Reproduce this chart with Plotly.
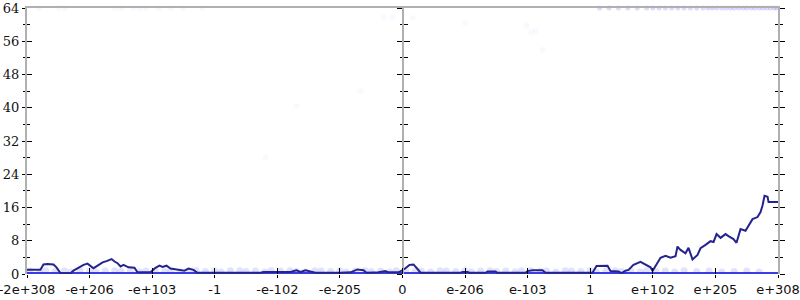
import plotly.graph_objects as go

# ---- data ----
tick_pos = [-6, -5, -4, -3, -2, -1, 0, 1, 2, 3, 4, 5, 6]
tick_labels = ["-2e+308", "-e+206", "-e+103", "-1", "-e-102", "-e-205", "0",
               "e-206", "e-103", "1", "e+102", "e+205", "e+308"]

line_x = [-6.0, -5.785, -5.737, -5.673, -5.577, -5.529, -5.465, -5.305, -5.257, -5.177,
          -5.097, -5.033, -4.985, -4.937, -4.872, -4.792, -4.729, -4.648, -4.601, -4.554,
          -4.506, -4.458, -4.378, -4.283, -4.235, -4.027, -3.947, -3.883, -3.835, -3.771,
          -3.707, -3.579, -3.484, -3.420, -3.340, -3.276, -2.269, -2.221, -1.790, -1.694,
          -1.630, -1.550, -1.486, -1.390, -0.991, -0.831, -0.719, -0.623, -0.575, -0.384,
          -0.272, -0.224, -0.064, 0.032, 0.112, 0.176, 0.240, 0.288, 0.927, 0.959,
          1.039, 1.071, 1.326, 1.358, 1.486, 1.518, 1.965, 1.997, 2.077, 2.237,
          2.285, 3.036, 3.100, 3.276, 3.324, 3.452, 3.500, 3.563, 3.611, 3.691,
          3.803, 3.883, 3.963, 3.995, 4.043, 4.123, 4.203, 4.283, 4.363, 4.394,
          4.442, 4.522, 4.570, 4.602, 4.634, 4.714, 4.762, 4.842, 4.922, 4.970,
          5.018, 5.082, 5.161, 5.209, 5.289, 5.337, 5.401, 5.481, 5.529, 5.593,
          5.673, 5.721, 5.753, 5.785, 5.833, 5.849, 6.0]
line_y = [1.0, 1.0, 2.3, 2.4, 2.3, 1.6, 0.2, 0.2, 0.8, 1.5,
          2.2, 2.5, 2.0, 1.4, 2.0, 2.8, 3.1, 3.6, 3.0, 2.6,
          1.8, 2.2, 1.6, 1.5, 0.4, 0.4, 1.5, 2.0, 1.7, 2.0,
          1.3, 1.0, 0.8, 1.3, 1.0, 0.3, 0.3, 0.5, 0.5, 0.9,
          0.5, 0.9, 0.6, 0.3, 0.3, 0.4, 1.1, 0.9, 0.3, 0.4,
          0.7, 0.4, 0.4, 1.2, 2.2, 2.3, 1.2, 0.3, 0.3, 0.5,
          0.5, 0.3, 0.3, 0.6, 0.6, 0.3, 0.3, 0.7, 0.9, 0.9,
          0.3, 0.3, 1.9, 2.0, 0.7, 0.6, 0.2, 0.8, 1.0, 2.2,
          2.9, 2.3, 1.6, 0.7, 2.0, 3.9, 4.4, 3.9, 4.3, 6.6,
          5.8, 5.0, 6.3, 5.0, 3.5, 4.6, 6.2, 7.0, 7.9, 7.7,
          9.6, 8.7, 9.6, 9.1, 8.4, 7.5, 10.8, 10.4, 11.7, 13.2,
          13.7, 14.9, 16.5, 18.8, 18.6, 17.3, 17.3]

zero_x = [-6.0, 6.0]
zero_y = [0.0, 0.0]

low_x = [-5.95, -5.8, -5.7, -5.55, -5.4, -5.3, -5.15, -5.0, -4.9, -4.75, -4.6, -4.5,
         -4.35, -4.2, -4.1, -3.95, -3.8, -3.7, -3.55, -3.4, -3.3, -3.15, -3.0, -2.9,
         -2.75, -2.6, -2.5, -2.35, -2.2, -2.1, -1.95, -1.8, -1.7, -1.55, -1.4, -1.3,
         -1.15, -1.0, -0.9, -0.75, -0.6, -0.5, -0.35, -0.2, -0.1, 0.05, 0.2, 0.3,
         0.45, 0.6, 0.7, 0.85, 1.0, 1.1, 1.25, 1.4, 1.5, 1.65, 1.8, 1.9, 2.05, 2.2,
         2.3, 2.45, 2.6, 2.7, 2.85, 3.0, 3.1, 3.25, 3.4, 3.5, 3.65, 3.8, 3.9, 4.05,
         4.2, 4.35, 4.5, 4.7, 4.9, 5.1, 5.3, 5.5, 5.7]
low_y = [0.7, 0.5, 0.8, 0.6, 0.7, 0.4, 0.8, 0.8, 0.5, 0.7, 0.8, 0.6,
         0.8, 0.5, 0.7, 0.8, 0.6, 0.8, 0.5, 0.7, 0.8, 0.6, 0.7, 0.5,
         0.8, 0.8, 0.6, 0.7, 0.5, 0.8, 0.7, 0.8, 0.6, 0.5, 0.8, 0.7,
         0.6, 0.8, 0.5, 0.7, 0.8, 0.6, 0.7, 0.5, 0.8, 0.8, 0.6, 0.7,
         0.5, 0.8, 0.7, 0.6, 0.8, 0.5, 0.7, 0.8, 0.6, 0.7, 0.5, 0.8,
         0.8, 0.6, 0.7, 0.5, 0.8, 0.7, 0.6, 0.8, 0.5, 0.7, 0.8, 0.6,
         0.7, 0.5, 0.8, 0.6, 0.7, 0.5, 0.8, 0.6, 0.7, 0.5, 0.6, 0.7, 0.5]

top_left_x = [-5.8, -5.5, -5.4, -4.6, -4.5, -4.3, -4.2, -4.1, -3.9, -3.7, -3.5, -3.2]
top_left_y = [64, 64, 64, 64, 64, 64, 64, 64, 64, 64, 64, 64]

top_right_x = [3.15, 3.3, 3.45, 3.6, 3.75, 3.9, 4.0, 4.1, 4.2, 4.3, 4.4, 4.5, 4.6,
               4.7, 4.8, 4.88, 4.95, 5.02, 5.1, 5.17, 5.24, 5.3, 5.37, 5.44, 5.5,
               5.57, 5.63, 5.7, 5.76, 5.82, 5.88, 5.94, 5.98]
top_right_y = [64] * 33

sparse_x = [-0.30, -0.16, 0.16, 1.0, 1.98, 2.06, 2.13, 2.24, -1.69, -2.19, -0.67]
sparse_y = [61.8, 61.8, 61.6, 60.4, 59.7, 58.2, 58.4, 53.9, 40.4, 28.1, 44.0]

# ---- figure ----
fig = go.Figure()
fig.add_trace(go.Scatter(x=low_x, y=low_y, mode="markers",
                         marker=dict(color="rgba(110,110,250,0.2)", size=7),
                         showlegend=False, hoverinfo="skip"))
fig.add_trace(go.Scatter(x=top_left_x, y=top_left_y, mode="markers",
                         marker=dict(color="rgba(110,110,250,0.05)", size=6),
                         showlegend=False, hoverinfo="skip", cliponaxis=False))
fig.add_trace(go.Scatter(x=top_right_x, y=top_right_y, mode="markers",
                         marker=dict(color="rgba(90,90,250,0.22)", size=5),
                         showlegend=False, hoverinfo="skip", cliponaxis=False))
fig.add_trace(go.Scatter(x=sparse_x, y=sparse_y, mode="markers",
                         marker=dict(color="rgba(110,110,250,0.04)", size=6),
                         showlegend=False, hoverinfo="skip"))
fig.add_trace(go.Scatter(x=zero_x, y=zero_y, mode="lines",
                         line=dict(color="rgba(50,50,225,0.95)", width=4),
                         showlegend=False, hoverinfo="skip"))
fig.add_trace(go.Scatter(x=line_x, y=line_y, mode="lines",
                         line=dict(color="#24248f", width=2),
                         showlegend=False, hoverinfo="skip"))

# dummy traces so every overlay axis is drawn
for ya in ["y2", "y3", "y4", "y5", "y6"]:
    fig.add_trace(go.Scatter(x=[None], y=[None], yaxis=ya, showlegend=False,
                             hoverinfo="skip"))
for xa in ["x2", "x3"]:
    fig.add_trace(go.Scatter(x=[None], y=[None], xaxis=xa, showlegend=False,
                             hoverinfo="skip"))

GRAY = "#b0b0b0"
common_y = dict(range=[0, 64], tickmode="linear", tick0=0, dtick=8,
                showgrid=False, zeroline=False, tickcolor="black", tickwidth=1,
                fixedrange=True, automargin=False)

def ymin(ticks, ln):
    return dict(ticks=ticks, ticklen=ln, dtick=4, tick0=0, tickcolor="black",
                tickwidth=1, showgrid=False)

fig.update_layout(
    width=800, height=300,
    margin=dict(l=27, r=22, t=8, b=26),
    paper_bgcolor="white", plot_bgcolor="white",
    xaxis=dict(range=[-6, 6], tickmode="array", tickvals=tick_pos, ticktext=tick_labels,
               ticks="outside", ticklen=3, tickcolor="black", tickwidth=1,
               showline=False, showgrid=False, zeroline=False, automargin=False,
               ticklabeloverflow="allow",
               tickfont=dict(family="DejaVu Sans", size=13, color="#111")),
    xaxis2=dict(range=[-6, 6], overlaying="x", anchor="y", side="bottom",
                tickmode="array", tickvals=tick_pos, showticklabels=False,
                ticks="inside", ticklen=6, tickcolor="black", tickwidth=1,
                showline=False, showgrid=False, zeroline=False, automargin=False),
    xaxis3=dict(range=[-6, 6], overlaying="x", anchor="y", side="top",
                showticklabels=False, ticks="", showline=True, linecolor=GRAY,
                linewidth=2, showgrid=False, zeroline=False, automargin=False),
    yaxis=dict(**common_y, ticks="outside", ticklen=3, showline=True, linecolor=GRAY,
               linewidth=2, minor=ymin("outside", 2),
               tickfont=dict(family="DejaVu Serif", size=13, color="#111")),
    yaxis2=dict(**common_y, overlaying="y", anchor="x", side="left", ticks="inside",
                ticklen=5, showticklabels=False, showline=False,
                minor=ymin("inside", 3)),
    yaxis3=dict(**common_y, overlaying="y", anchor="x", side="right", ticks="outside",
                ticklen=5, showticklabels=False, showline=True, linecolor=GRAY,
                linewidth=2, minor=ymin("outside", 3)),
    yaxis4=dict(**common_y, overlaying="y", anchor="x", side="right", ticks="inside",
                ticklen=5, showticklabels=False, showline=False,
                minor=ymin("inside", 3)),
    yaxis5=dict(**common_y, overlaying="y", anchor="free", position=0.5, side="left",
                ticks="outside", ticklen=5, showticklabels=False, showline=True,
                linecolor=GRAY, linewidth=2, minor=ymin("outside", 2)),
    yaxis6=dict(**common_y, overlaying="y", anchor="free", position=0.5, side="left",
                ticks="inside", ticklen=6, showticklabels=False, showline=False,
                minor=ymin("inside", 4)),
)

fig.write_html("out.html")
